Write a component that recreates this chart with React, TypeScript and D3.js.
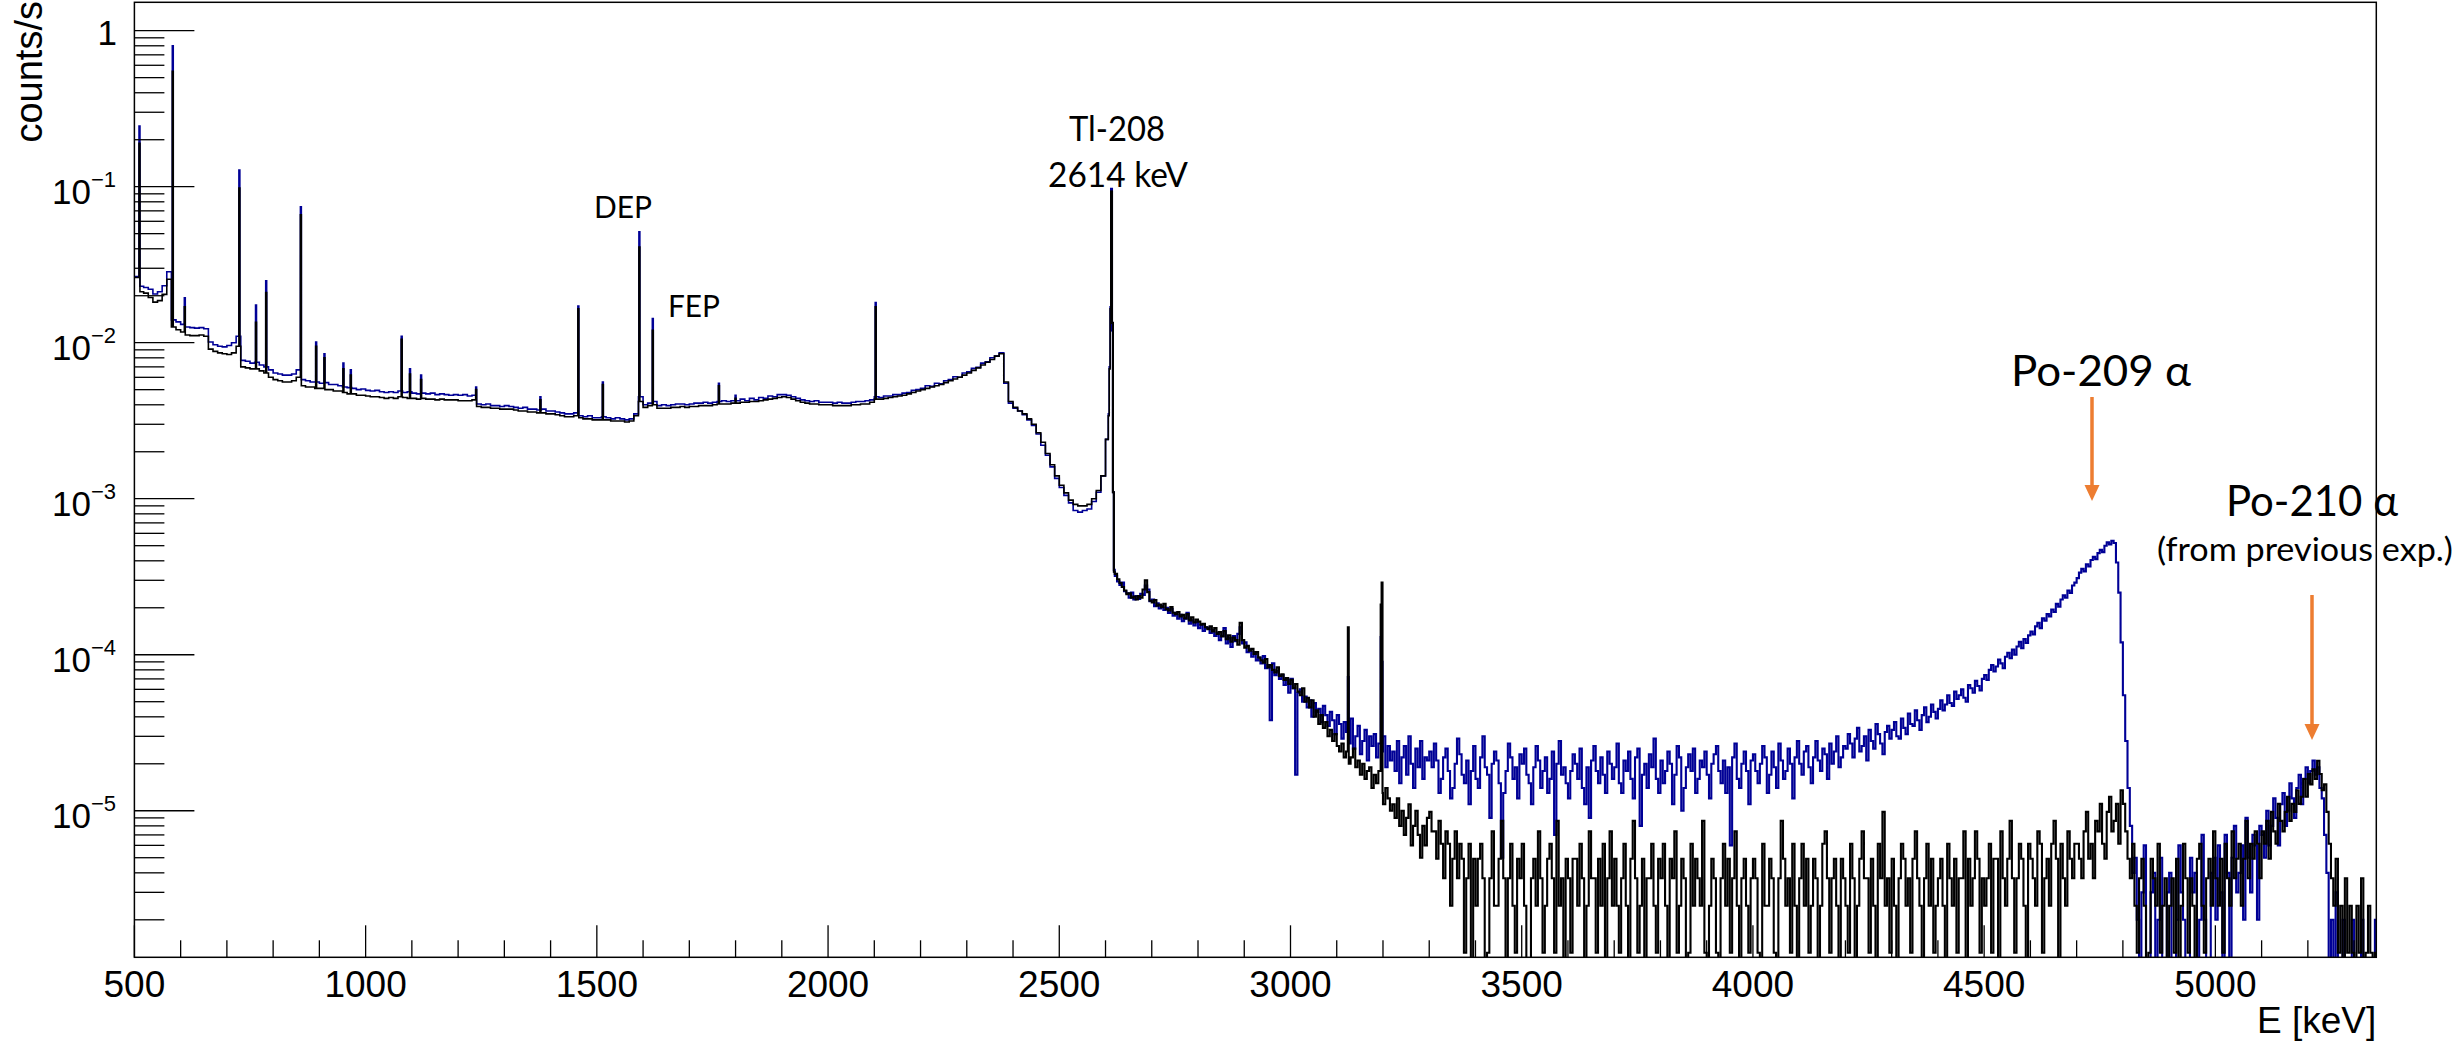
import React from "react";
import * as d3 from "d3";

// ---------- axis ranges & ticks ----------
const X_MIN = 500;
const X_MAX = 5348;
const Y_MIN = 1.15e-6;
const Y_MAX = 1.52;
const xMajorTicks = [500, 1000, 1500, 2000, 2500, 3000, 3500, 4000, 4500, 5000];
const yMajorExp = [0, -1, -2, -3, -4, -5];

// ---------- low-energy continuum: 10 keV bins from 500 keV, units 1e-4 counts/s ----------
const lowStart = 500;
const lowBin = 10;
const blueLow = [
  265, 230, 226, 220, 205, 212, 232, 285, 140, 136,
  131, 126, 125, 124, 125, 123, 101, 97, 95, 94,
  96, 100, 110, 77, 76, 74, 75, 72, 70, 67,
  64, 63, 62, 62, 63, 67, 58, 57, 56, 56,
  55, 55.5, 54, 54, 53, 52, 51.5, 51, 50, 50.5,
  49.5, 49, 49.5, 48.5, 48, 48.5, 48, 49, 48, 48.5,
  47.5, 47, 47.5, 47, 47.5, 46.5, 47, 46.5, 46, 46.5,
  46, 46.5, 45.5, 46, 40.5, 40, 40.5, 39.5, 39.5, 39,
  39.5, 39, 38.5, 38, 38.5, 37.5, 37.5, 37, 37.5, 36.5,
  36.5, 36, 35.5, 35, 35, 35.5, 34, 33.5, 34, 33,
  33, 33.5, 33, 32.5, 33, 32.5, 32, 32.5, 35, 45,
  40, 41, 42, 39.5, 40, 39.5, 40, 40.5, 40.5, 40,
  40.5, 41, 41, 41.5, 41, 41.5, 42, 42.5, 42, 42.5,
  42.5, 43.5, 42.5, 44, 43, 44.5, 44, 45.5, 45, 46.5,
  46.5, 46, 45, 44, 43, 42.5, 42, 42.5, 41.5, 41.5,
  41.5, 41, 41.5, 41, 41, 41.5, 42, 42, 42.5, 43,
  45, 44.5, 45.5, 45.5, 46.5, 46.5, 47.5, 48, 49.5, 50,
  51, 53, 52.5, 55, 54.5, 57, 58, 60.5, 60, 64,
  65, 68.5, 69.5, 74, 75.5, 80, 82, 86, 55, 41,
  38, 36.5, 34.5, 32, 29.5, 26, 22, 19, 16, 13.5,
  11.8, 10.5, 9.4, 8.4, 8.2, 8.4, 8.6, 9.6, 11, 14,
  24, 3.5,
];
const blackLow = [
  262, 212, 208, 195, 182, 186, 204, 255, 126, 121,
  117, 112, 111, 111, 112, 110, 91, 88, 86, 85,
  84, 86, 95, 70, 69, 68, 68, 66, 64, 60,
  58, 57, 56, 56, 57, 60, 53, 52, 52, 51,
  51, 50, 50, 49, 49, 48, 47, 47, 46, 46,
  45.5, 45, 45, 44.5, 44, 44.5, 44, 45, 44.5, 44,
  44, 43.5, 44, 43.5, 43.5, 43, 43.5, 43, 43, 43,
  42.5, 42.5, 42.5, 43, 39, 38.5, 38.5, 38, 38, 37.5,
  37.5, 37.5, 37, 36.5, 36.5, 36, 36, 35.5, 35.5, 35,
  35, 34.5, 34, 33.5, 33.5, 34, 33, 32.5, 32.5, 32,
  32, 32, 32, 31.5, 31.5, 31.5, 31, 31.5, 34, 42,
  38.5, 39.5, 40, 38, 38, 38, 38.5, 38.5, 39, 38.5,
  39, 39, 39.5, 39.5, 39.5, 40, 40.5, 40.5, 40.5, 41,
  41, 41.5, 41.5, 42, 42, 42.5, 43, 43.5, 44, 44.5,
  45, 44.5, 43.5, 42.5, 41.5, 41, 40.5, 40.5, 40, 40,
  40, 39.5, 39.5, 39.5, 39.5, 40, 40, 40.5, 40.5, 41.5,
  43.5, 43.5, 44, 44.5, 45, 45.5, 46, 47, 48, 49,
  50, 51, 52, 53, 54, 55.5, 57, 58.5, 60, 62,
  64, 66.5, 69, 72, 75, 78, 82, 85, 56, 42,
  38.5, 36.5, 35, 32.5, 30, 26.5, 23, 19.5, 16.5, 14,
  12.2, 10.9, 9.8, 9.2, 9.0, 9.0, 9.2, 10, 11.3, 14,
  24, 3.4,
];

// ---------- peaks (keV, counts/s) ----------
const peakEnergy = [511, 583, 609, 727, 763, 785, 860, 893, 911, 952, 968, 1078, 1096, 1120, 1239, 1378, 1460, 1513, 1592, 1621, 1764, 1800, 2103, 2607, 2609, 2611, 2613, 2615, 2617, 3125, 3196, 3198];
const peakBlue = [0.245, 0.8, 0.0194, 0.128, 0.0174, 0.0249, 0.0743, 0.0101, 0.0085, 0.0074, 0.0067, 0.011, 0.0068, 0.0062, 0.0052, 0.0045, 0.0172, 0.0056, 0.0514, 0.0143, 0.0055, 0.0046, 0.0181, 0.0035, 0.007, 0.017, 0.097, 0.012, 0.0011, 0.000072, 0.00013, 0.00009];
const peakBlack = [0.19, 0.55, 0.017, 0.098, 0.0135, 0.021, 0.066, 0.0095, 0.008, 0.0068, 0.0062, 0.0105, 0.0063, 0.0058, 0.005, 0.0043, 0.0165, 0.0054, 0.041, 0.012, 0.0053, 0.0044, 0.017, 0.0034, 0.0068, 0.0165, 0.093, 0.0134, 0.0011, 0.00015, 0.00021, 0.00029];

// ---------- 2620-3300 keV: 5 keV bins, units 1e-6 counts/s ----------
const midStart = 2620;
const highBin = 5;
const blueMid = [
  320, 295, 280, 290, 255, 248, 232, 250, 226, 238, 228, 246, 242, 278, 262, 220, 226, 205, 214, 198,
  206, 194, 200, 185, 196, 178, 186, 170, 180, 164, 170, 186, 158, 166, 154, 162, 148, 156, 142, 150,
  148, 138, 144, 132, 138, 124, 132, 148, 118, 128, 112, 132, 122, 136, 150, 118, 120, 104, 108, 97,
  104, 92, 96, 88, 98, 82, 86, 38, 88, 74, 79, 70, 74, 64, 69, 57, 70, 61, 17, 57,
  60, 50, 54, 46, 51, 40, 49, 43, 45, 37, 47, 41, 35, 43, 38, 31, 41, 36, 29, 37,
  32, 27, 39, 25, 30, 35, 23, 28, 33, 21, 30, 26, 31, 22, 27, 24, 30, 19, 26, 21,
  24, 18, 28, 15, 22, 26, 17, 30, 20, 14, 25, 19, 28, 16, 22, 21,
];
const blackMid = [
  330, 305, 288, 272, 258, 244, 248, 232, 236, 226, 238, 232, 262, 300, 252, 222, 216, 224, 206, 210,
  202, 212, 196, 192, 202, 186, 182, 188, 176, 180, 171, 182, 166, 174, 161, 168, 163, 156, 158, 150,
  146, 152, 141, 148, 136, 140, 131, 142, 126, 133, 121, 129, 124, 116, 160, 124, 111, 114, 106, 109,
  101, 104, 96, 92, 89, 94, 83, 86, 80, 77, 83, 73, 75, 69, 71, 65, 69, 61, 65, 58,
  55, 61, 50, 53, 46, 51, 40, 44, 36, 41, 34, 37, 30, 33, 28, 31, 26, 24, 27, 22,
  24, 20, 22, 25, 19, 21, 17, 20, 16, 18, 19, 14, 17, 15, 18, 13, 11, 14, 12, 10,
  11, 9, 12, 8, 10, 7, 9, 11, 6, 8, 10, 7, 5, 8, 6, 9,
];

// ---------- 3300-5350 keV: 5 keV bins ----------
const highStart = 3300;
// blue: units 1e-6 counts/s
const blueHigh = [
  24, 19, 27, 21, 13, 16, 22, 25, 18, 12, 14, 20, 29, 23, 17, 15, 21, 11, 18, 26,
  16, 14, 22, 30, 19, 17, 9, 20, 24, 21, 15, 5, 13, 18, 27, 22, 16, 19, 12, 23,
  20, 25, 17, 15, 11, 19, 26, 21, 14, 18, 22, 13, 16, 24, 7, 20, 28, 17, 19, 15,
  12, 18, 23, 20, 16, 25, 14, 11, 19, 9, 21, 26, 18, 15, 22, 17, 13, 24, 20, 16,
  19, 27, 15, 13, 21, 18, 24, 16, 12, 22, 25, 8, 17, 20, 14, 23, 19, 29, 16, 13,
  21, 15, 18, 24, 20, 11, 17, 26, 22, 10, 14, 19, 23, 18, 25, 13, 16, 21, 19, 24,
  17, 12, 20, 23, 26, 18, 15, 21, 13, 19, 6, 22, 27, 16, 14, 20, 24, 18, 11, 21,
  23, 18, 15, 20, 26, 22, 13, 17, 24, 19, 14, 27, 21, 16, 18, 25, 20, 12, 22, 28,
  20, 17, 24, 26, 19, 15, 22, 28, 21, 18, 25, 23, 16, 27, 20, 24, 30, 19, 22, 26,
  25, 31, 27, 22, 29, 34, 24, 26, 30, 21, 33, 28, 25, 36, 31, 27, 23, 32, 35, 29,
  33, 37, 30, 29, 39, 34, 31, 42, 36, 35, 44, 38, 33, 41, 46, 37, 40, 48, 43, 39,
  45, 51, 44, 48, 55, 49, 47, 58, 52, 55, 60, 53, 50, 64, 61, 57, 68, 63, 59, 70,
  74, 69, 80, 86, 78, 84, 93, 88, 82, 97, 103, 95, 108, 100, 113, 121, 110, 126, 119, 133,
  141, 135, 152, 160, 148, 171, 165, 182, 176, 195, 188, 212, 203, 226, 240, 232, 258, 249, 278, 290,
  310, 336, 355, 342, 380, 368, 405, 425, 410, 448, 470, 455, 500, 525, 510, 538, 520, 390, 250, 120,
  55, 28, 14, 8, 4, 5, 2, 0, 3, 6, 1, 0, 3, 4, 0, 2, 5, 1, 0, 3,
  4, 1, 0, 2, 6, 3, 2, 0, 1, 5, 3, 4, 0, 2, 7, 2, 1, 0, 4, 5,
  2, 6, 3, 1, 7, 4, 0, 5, 8, 3, 4, 6, 2, 9, 5, 3, 7, 6, 2, 8,
  7, 5, 10, 6, 8, 12, 9, 6, 11, 13, 8, 10, 15, 12, 9, 14, 17, 11, 16, 19,
  15, 18, 21, 17, 19, 14, 12, 7, 4, 1, 2, 0, 3, 1, 0, 2, 0, 1, 0, 2,
  0, 1, 0, 2, 1, 0, 0, 1, 0, 2,
];
// black: raw counts per bin, one count = 1.23e-6 counts/s
const countUnit = 1.23e-6;
const blackHighCounts = [
  8, 6, 6, 4, 7, 5, 3, 6, 5, 2, 4, 6, 3, 5, 4, 1, 3, 5, 0, 4,
  2, 4, 5, 3, 0, 1, 3, 6, 2, 2, 4, 7, 3, 0, 3, 5, 2, 1, 4, 3,
  5, 2, 0, 0, 3, 4, 2, 6, 3, 1, 2, 4, 5, 3, 1, 7, 2, 3, 0, 4,
  3, 1, 4, 4, 2, 5, 3, 0, 2, 6, 3, 3, 1, 4, 2, 5, 0, 3, 6, 2,
  4, 2, 1, 3, 5, 2, 0, 4, 7, 3, 1, 2, 4, 0, 3, 3, 5, 2, 1, 4,
  3, 5, 2, 0, 4, 3, 6, 1, 2, 4, 3, 0, 1, 5, 2, 4, 3, 2, 7, 1,
  0, 2, 4, 3, 1, 0, 3, 5, 2, 4, 1, 3, 6, 2, 0, 3, 4, 2, 1, 3,
  4, 3, 1, 0, 5, 2, 2, 4, 3, 1, 0, 3, 7, 4, 2, 3, 1, 5, 2, 0,
  3, 5, 2, 4, 1, 2, 4, 3, 0, 2, 5, 6, 3, 1, 3, 4, 2, 0, 4, 3,
  2, 1, 5, 3, 0, 2, 4, 6, 3, 3, 1, 4, 2, 0, 5, 3, 8, 2, 3, 1,
  4, 2, 0, 3, 5, 4, 2, 3, 1, 4, 6, 3, 2, 0, 3, 5, 2, 4, 1, 2,
  3, 4, 2, 0, 5, 3, 2, 4, 1, 3, 3, 6, 0, 4, 2, 3, 6, 4, 1, 3,
  2, 3, 5, 1, 4, 4, 0, 6, 3, 2, 4, 7, 3, 1, 3, 5, 4, 2, 0, 5,
  4, 3, 2, 6, 5, 1, 3, 4, 2, 5, 7, 4, 0, 5, 3, 2, 6, 4, 3, 5,
  5, 4, 3, 6, 8, 4, 5, 3, 7, 6, 9, 5, 4, 8, 10, 6, 7, 9, 5, 11,
  9, 6, 4, 3, 5, 2, 1, 3, 4, 2, 0, 1, 4, 3, 2, 5, 1, 2, 3, 0,
  2, 3, 1, 4, 0, 2, 5, 3, 1, 3, 2, 0, 4, 5, 2, 1, 3, 4, 2, 6,
  3, 2, 4, 1, 5, 3, 2, 6, 3, 4, 5, 2, 4, 7, 3, 5, 4, 6, 5, 3,
  6, 5, 7, 4, 8, 6, 5, 9, 7, 6, 8, 10, 7, 9, 8, 11, 9, 10, 13, 10,
  14, 12, 15, 13, 17, 14, 11, 12, 8, 5, 3, 2, 4, 1, 2, 0, 3, 1, 2, 1,
  0, 2, 1, 3, 0, 1, 2, 1, 0, 1,
];

// ---------- titles ----------
const yTitle = "counts/s";
const xTitle = "E [keV]";

// ---------- helpers ----------
type Seg = { x0: number; x1: number; v: number };

function binsToSegs(start: number, width: number, vals: number[], scale: number): Seg[] {
  return vals.map((v, i) => ({ x0: start + i * width, x1: start + (i + 1) * width, v: v * scale }));
}

function applyPeaks(segs: Seg[], energies: number[], heights: number[], half: number): Seg[] {
  let out = segs.slice();
  energies.forEach((e, i) => {
    const p = { x0: e - half, x1: e + half, v: heights[i] };
    const next: Seg[] = [];
    for (const s of out) {
      if (s.x1 <= p.x0 || s.x0 >= p.x1) {
        next.push(s);
        continue;
      }
      if (s.x0 < p.x0) next.push({ x0: s.x0, x1: p.x0, v: s.v });
      if (s.x1 > p.x1) next.push({ x0: p.x1, x1: s.x1, v: s.v });
    }
    next.push(p);
    next.sort((a, b) => a.x0 - b.x0);
    out = next;
  });
  return out;
}

const FR = { left: 134.4, right: 2376.3, top: 2.3, bottom: 957.3 };

export default function App() {
  const x = d3.scaleLinear().domain([X_MIN, X_MAX]).range([FR.left, FR.right]);
  const ys = d3.scaleLog().domain([Y_MIN, Y_MAX]).range([FR.bottom, FR.top]);
  const y = (v: number) => (v > Y_MIN ? Math.max(FR.top, ys(v)) : FR.bottom + 2);

  const stepPath = (segs: Seg[]) => {
    let d = "";
    segs.forEach((s, i) => {
      const yy = y(s.v).toFixed(2);
      d += i === 0 ? `M${x(s.x0).toFixed(2)},${yy}` : `V${yy}`;
      d += `H${x(s.x1).toFixed(2)}`;
    });
    return d;
  };

  const split = 2620;
  const blueSegs = applyPeaks(
    [
      ...binsToSegs(lowStart, lowBin, blueLow, 1e-4),
      ...binsToSegs(midStart, highBin, blueMid, 1e-6),
      ...binsToSegs(highStart, highBin, blueHigh, 1e-6),
    ],
    peakEnergy,
    peakBlue,
    1
  );
  const blackSegs = applyPeaks(
    [
      ...binsToSegs(lowStart, lowBin, blackLow, 1e-4),
      ...binsToSegs(midStart, highBin, blackMid, 1e-6),
      ...binsToSegs(highStart, highBin, blackHighCounts, countUnit),
    ],
    peakEnergy,
    peakBlack,
    1
  );
  const blueA = blueSegs.filter((s) => s.x0 < split);
  const blueB = blueSegs.filter((s) => s.x0 >= split - 10);
  const blackA = blackSegs.filter((s) => s.x0 < split);
  const blackB = blackSegs.filter((s) => s.x0 >= split - 10);

  const xMinor = d3.range(600, X_MAX, 100).filter((v) => v % 500 !== 0);
  const yMinor: number[] = [];
  for (let k = -6; k <= 0; k++) {
    for (let m = 2; m <= 9; m++) {
      const v = m * Math.pow(10, k);
      if (v > Y_MIN && v < Y_MAX) yMinor.push(v);
    }
  }

  const axisFont = "'Liberation Sans', Arial, Helvetica, sans-serif";
  const annFont = "Lato, 'Open Sans', sans-serif";
  const orange = "#ED7D31";
  const blue = "#000096";

  return (
    <svg
      width={2458}
      height={1043}
      style={{ position: "absolute", left: 0, top: 0, background: "#fff" }}
    >
      <defs>
        <clipPath id="plotclip">
          <rect x={FR.left} y={FR.top} width={FR.right - FR.left} height={FR.bottom - FR.top} />
        </clipPath>
      </defs>
      <rect x={0} y={0} width={2458} height={1043} fill="#fff" />

      <g clipPath="url(#plotclip)" fill="none" strokeLinejoin="miter">
        <path d={stepPath(blueA)} stroke={blue} strokeWidth={1.6} />
        <path d={stepPath(blueB)} stroke={blue} strokeWidth={2.1} />
        <path d={stepPath(blackA)} stroke="#000" strokeWidth={1.6} />
        <path d={stepPath(blackB)} stroke="#000" strokeWidth={2.1} />
      </g>

      {/* frame */}
      <rect
        x={FR.left}
        y={FR.top}
        width={FR.right - FR.left}
        height={FR.bottom - FR.top}
        fill="none"
        stroke="#000"
        strokeWidth={1.5}
      />

      {/* ticks */}
      <g stroke="#000" strokeWidth={1.3}>
        {xMajorTicks.map((t) => (
          <line key={"xM" + t} x1={x(t)} x2={x(t)} y1={FR.bottom} y2={FR.bottom - 32} />
        ))}
        {xMinor.map((t) => (
          <line key={"xm" + t} x1={x(t)} x2={x(t)} y1={FR.bottom} y2={FR.bottom - 17} />
        ))}
        {yMajorExp.map((k) => (
          <line key={"yM" + k} x1={FR.left} x2={FR.left + 60} y1={ys(Math.pow(10, k))} y2={ys(Math.pow(10, k))} />
        ))}
        {yMinor.map((v) => (
          <line key={"ym" + v} x1={FR.left} x2={FR.left + 30} y1={ys(v)} y2={ys(v)} />
        ))}
      </g>

      {/* x tick labels */}
      <g fontFamily={axisFont} fontSize={37} textAnchor="middle" fill="#000">
        {xMajorTicks.map((t) => (
          <text key={"xl" + t} x={x(t)} y={997}>
            {t}
          </text>
        ))}
      </g>

      {/* y tick labels */}
      <g fontFamily={axisFont} textAnchor="end" fill="#000">
        {yMajorExp.map((k) =>
          k === 0 ? (
            <text key={"yl" + k} x={117} y={ys(1) + 14.5} fontSize={35}>
              1
            </text>
          ) : (
            <text key={"yl" + k} x={116} y={ys(Math.pow(10, k)) + 17.5} fontSize={35}>
              <tspan>10</tspan>
              <tspan fontSize={22} dy={-17}>
                {"\u2212" + Math.abs(k)}
              </tspan>
            </text>
          )
        )}
      </g>

      {/* axis titles */}
      <text fontFamily={axisFont} fontSize={37} textAnchor="end" x={FR.right} y={1033} fill="#000">
        {xTitle}
      </text>
      <text
        fontFamily={axisFont}
        fontSize={38}
        textAnchor="end"
        transform="translate(42,1) rotate(-90)"
        fill="#000"
      >
        {yTitle}
      </text>

      {/* annotations */}
      <g fontFamily={annFont} fill="#000">
        <text x={1117} y={141} fontSize={34} textAnchor="middle" textLength={96} lengthAdjust="spacingAndGlyphs">
          Tl-208
        </text>
        <text x={1118} y={187} fontSize={34} textAnchor="middle" textLength={140} lengthAdjust="spacingAndGlyphs">
          2614 keV
        </text>
        <text x={623} y={218} fontSize={30} textAnchor="middle" textLength={58} lengthAdjust="spacingAndGlyphs">
          DEP
        </text>
        <text x={694} y={317} fontSize={31} textAnchor="middle" textLength={52} lengthAdjust="spacingAndGlyphs">
          FEP
        </text>
        <text x={2011} y={386} fontSize={42} textLength={180} lengthAdjust="spacingAndGlyphs">
          Po-209 α
        </text>
        <text x={2226} y={516} fontSize={42} textLength={172} lengthAdjust="spacingAndGlyphs">
          Po-210 α
        </text>
        <text x={2157} y={561} fontSize={33} textLength={296} lengthAdjust="spacingAndGlyphs">
          (from previous exp.)
        </text>
      </g>

      {/* arrows */}
      <g stroke={orange} strokeWidth={3.5}>
        <line x1={2092} x2={2092} y1={397} y2={488} />
        <line x1={2312} x2={2312} y1={595} y2={726} />
      </g>
      <g fill={orange} stroke="none">
        <polygon points="2084.5,485 2099.5,485 2092,501" />
        <polygon points="2304.5,724 2319.5,724 2312,740" />
      </g>
    </svg>
  );
}
